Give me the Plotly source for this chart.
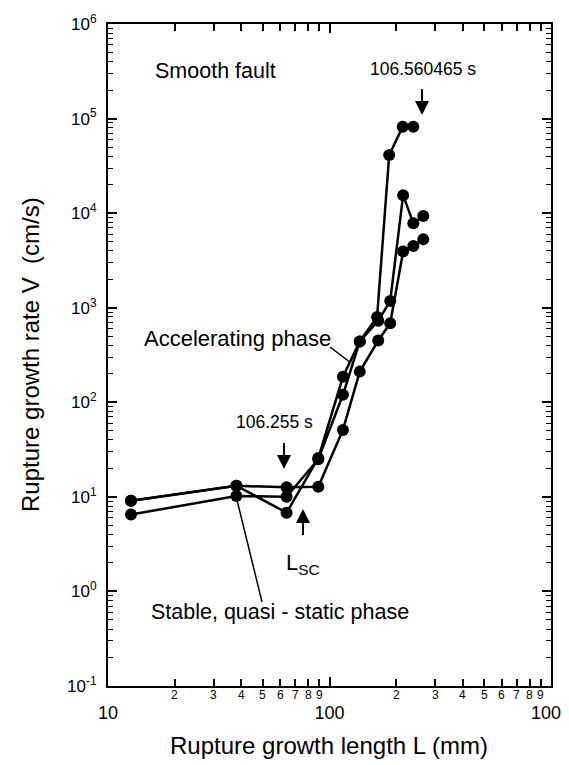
import numpy as np
import plotly.graph_objects as go

# ---- data ----
L_a = [12.7, 38, 64, 89, 115, 137, 164, 186, 214, 239]
V_a = [9.1, 13.1, 6.8, 25.7, 186, 440, 800, 41200, 82000, 82000]

L_b = [12.7, 38, 64, 89, 115, 137, 166, 188, 215, 239, 265]
V_b = [6.5, 10.2, 10.0, 25.0, 120, 440, 730, 1180, 15500, 7800, 9330]

L_c = [12.7, 38, 64, 89, 115, 137, 166, 188, 215, 239, 265]
V_c = [9.1, 13.1, 12.6, 12.8, 51, 211, 450, 686, 3920, 4500, 5300]

y_major = [0.1, 1, 10, 100, 1000, 1e4, 1e5, 1e6]
y_major_text = ["10<sup>-1</sup>", "10<sup>0</sup>", "10<sup>1</sup>", "10<sup>2</sup>",
                "10<sup>3</sup>", "10<sup>4</sup>", "10<sup>5</sup>", "10<sup>6</sup>"]
x_major = [10, 100, 1000]
x_major_text = ["10", "100", "1000"]
x_minor = [2, 3, 4, 5, 6, 7, 8, 9, 20, 30, 40, 50, 60, 70, 80, 90, 200, 300, 400, 500, 600, 700, 800, 900]
x_minor_text = ["2", "3", "4", "5", "6", "7", "8", "9"] * 2
y_minor = [m * 10.0 ** e for e in range(-1, 6) for m in range(2, 10)]

FONT = "Liberation Sans, Arial, Helvetica, sans-serif"

# page body has an 8px margin; figure sized so that it fills the 569x765 window
OFF = 8
W, H = 569 - OFF, 765 - OFF
ML, MR, MT, MB = 100, 18, 16, 79
PW, PH = W - ML - MR, H - MT - MB
X0, Y1 = ML + OFF, MT + OFF + PH  # plot-area left / bottom in window pixels


def px(p):
    return (p - X0) / PW


def py(p):
    return (Y1 - p) / PH


fig = go.Figure()
for Ls, Vs in [(L_a, V_a), (L_b, V_b), (L_c, V_c)]:
    fig.add_trace(go.Scatter(
        x=Ls, y=Vs, mode="lines+markers",
        line=dict(color="black", width=2.5),
        marker=dict(color="black", size=12),
        showlegend=False, hoverinfo="skip"))

annotations = []
# minor x digit labels
for v, t in zip(x_minor[8:], x_minor_text):
    annotations.append(dict(x=np.log10(v), xref="x", y=0, yref="paper", yshift=-9,
                            text=t, showarrow=False, font=dict(size=12, family=FONT, color="black"),
                            xanchor="center", yanchor="middle"))


def txt(text, x, y, size, xanchor="center"):
    annotations.append(dict(x=px(x), y=py(y), xref="paper", yref="paper", text=text,
                            showarrow=False, xanchor=xanchor, yanchor="middle",
                            font=dict(size=size, family=FONT, color="black")))


def arrow(x, y_tip, y_tail):
    annotations.append(dict(x=px(x), y=py(y_tip), xref="paper", yref="paper", text=" ",
                            showarrow=True, ax=0, ay=(y_tail - y_tip), axref="pixel", ayref="pixel",
                            arrowhead=2, arrowsize=1.4, arrowwidth=2, arrowcolor="black",
                            font=dict(size=10, family=FONT)))


txt("Smooth fault", 153, 71, 21.5, "left")
txt("106.560465 s", 423, 69, 17.5)
arrow(422, 115, 82)
txt("Accelerating phase", 237, 338, 22)
txt("106.255 s", 274, 422, 17.5)
arrow(284, 469, 436)
arrow(303, 509, 542)
txt("L<sub>SC</sub>", 303, 564, 22)
txt("Stable, quasi - static phase", 280, 612, 21.5)
# axis titles
annotations.append(dict(x=px(30), y=py(355), xref="paper", yref="paper",
                        text="Rupture growth rate V  (cm/s)", textangle=-90, showarrow=False,
                        xanchor="center", yanchor="middle", font=dict(size=24, family=FONT, color="black")))
annotations.append(dict(x=px(329), y=py(746), xref="paper", yref="paper",
                        text="Rupture growth length L (mm)", showarrow=False,
                        xanchor="center", yanchor="middle", font=dict(size=24, family=FONT, color="black")))

shapes = [
    dict(type="line", xref="paper", yref="paper", x0=px(330), y0=py(347), x1=px(351), y1=py(363),
         line=dict(color="black", width=1.5)),
    dict(type="line", xref="paper", yref="paper", x0=px(237), y0=py(500), x1=px(262), y1=py(602),
         line=dict(color="black", width=1.5)),
]

fig.update_layout(
    width=W, height=H, margin=dict(l=ML, r=MR, t=MT, b=MB, autoexpand=False),
    paper_bgcolor="white", plot_bgcolor="white",
    annotations=annotations, shapes=shapes,
    xaxis=dict(type="log", range=[1, 3], showgrid=False, zeroline=False, automargin=False,
               showline=True, linecolor="black", linewidth=2, mirror="ticks",
               ticks="inside", ticklen=9, tickwidth=1.5, tickcolor="black",
               tickvals=x_major, ticktext=x_major_text, ticklabelstandoff=9,
               ticklabeloverflow="allow",
               tickfont=dict(size=18, family=FONT, color="black"),
               minor=dict(tickvals=x_minor, ticks="inside", ticklen=7, tickwidth=1.5, tickcolor="black",
                          showgrid=False)),
    yaxis=dict(type="log", range=[-1, 6], showgrid=False, zeroline=False, automargin=False,
               showline=True, linecolor="black", linewidth=2, mirror="ticks",
               ticks="inside", ticklen=9, tickwidth=1.5, tickcolor="black",
               tickvals=y_major, ticktext=y_major_text, ticklabelstandoff=6,
               ticklabeloverflow="allow",
               tickfont=dict(size=17, family=FONT, color="black"),
               minor=dict(tickvals=y_minor, ticks="inside", ticklen=5, tickwidth=1.2, tickcolor="black",
                          showgrid=False)),
)

fig.write_html("out.html")
